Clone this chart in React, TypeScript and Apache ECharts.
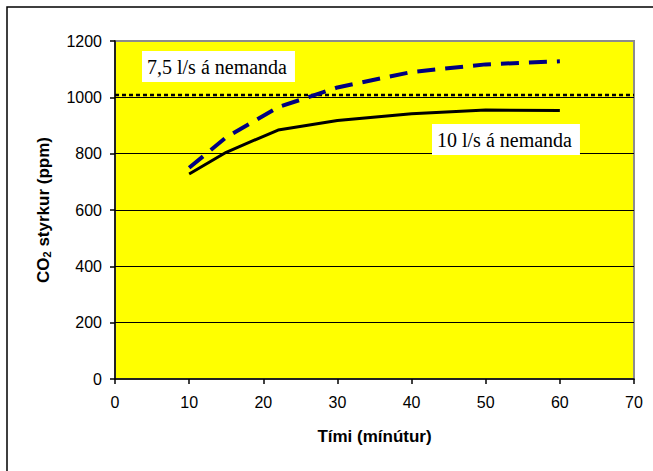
import React, { useEffect, useRef } from "react";
import * as echarts from "echarts";

const time10 = [10, 15, 22, 30, 40, 50, 60];
const co2At10 = [728, 805, 884, 918, 942, 955, 953];
const time75 = [10, 15, 22, 30, 40, 50, 60];
const co2At75 = [750, 858, 965, 1035, 1090, 1117, 1128];
const limitX = [0, 70];
const limitY = [1008, 1008];
const label75 = "7,5 l/s á nemanda";
const label10 = "10 l/s á nemanda";
const xTitle = "Tími (mínútur)";

export default function App() {
  const ref = useRef<HTMLDivElement>(null);
  useEffect(() => {
    document.body.style.margin = "0";
    const chart = echarts.init(ref.current!, undefined, { renderer: "svg" });
    const sans = "Liberation Sans, Arial, sans-serif";
    const serif = "Liberation Serif, Times New Roman, serif";
    chart.setOption({
      animation: false,
      backgroundColor: "#ffffff",
      grid: {
        left: 115,
        right: 19,
        top: 41,
        bottom: 92,
        show: true,
        backgroundColor: "#ffff00",
        borderColor: "#8c8c8c",
        borderWidth: 2,
      },
      xAxis: {
        type: "value",
        min: 0,
        max: 70,
        interval: 10,
        name: xTitle,
        nameLocation: "middle",
        nameGap: 49,
        nameTextStyle: { fontFamily: sans, fontSize: 17, fontWeight: "bold", color: "#000" },
        axisLine: { show: true, onZero: false, lineStyle: { color: "#000", width: 1.5 } },
        axisTick: { show: true, inside: false, length: 5, lineStyle: { color: "#000", width: 1.5 } },
        axisLabel: { fontFamily: sans, fontSize: 16, color: "#000", margin: 15, formatter: (v: number) => String(v) },
        splitLine: { show: false },
      },
      yAxis: {
        type: "value",
        min: 0,
        max: 1200,
        interval: 200,
        name: "{a|CO}{s|2}{a| styrkur (ppm)}",
        nameLocation: "middle",
        nameGap: 63,
        nameRotate: 90,
        nameTextStyle: {
          rich: {
            a: { fontFamily: sans, fontSize: 17, fontWeight: "bold", color: "#000" },
            s: { fontFamily: sans, fontSize: 11, fontWeight: "bold", color: "#000", verticalAlign: "bottom", padding: [7, 0, 0, 0] },
          },
        },
        axisLine: { show: true, lineStyle: { color: "#000", width: 1.5 } },
        axisTick: { show: true, inside: false, length: 5, lineStyle: { color: "#000", width: 1.5 } },
        axisLabel: { fontFamily: sans, fontSize: 16, color: "#000", margin: 13, formatter: (v: number) => String(v) },
        splitLine: {
          show: true,
          lineStyle: {
            color: ["rgba(0,0,0,0)", "#000", "#000", "#000", "#000", "#000", "#8c8c8c"],
            width: 1.2,
          },
        },
      },
      series: [
        {
          type: "line",
          name: label10,
          data: time10.map((t, i) => [t, co2At10[i]]),
          showSymbol: false,
          symbol: "none",
          lineStyle: { color: "#000", width: 3 },
          z: 3,
        },
        {
          type: "line",
          name: label75,
          data: time75.map((t, i) => [t, co2At75[i]]),
          showSymbol: false,
          symbol: "none",
          lineStyle: { color: "#000080", width: 4, type: [18, 10] },
          z: 4,
        },
        {
          type: "line",
          name: "limit",
          data: limitX.map((t, i) => [t, limitY[i]]),
          showSymbol: false,
          symbol: "none",
          lineStyle: { color: "#000", width: 2.5, type: [4, 3] },
          z: 2,
        },
      ],
      graphic: [
        {
          type: "rect",
          shape: { x: 7, y: 7, width: 700, height: 500 },
          style: { fill: "none", stroke: "#000", lineWidth: 1.5 },
          z: 100,
        },
        {
          type: "text",
          x: 142,
          y: 51,
          style: {
            text: label75,
            fontFamily: serif,
            fontSize: 20,
            fill: "#000",
            backgroundColor: "#fff",
            padding: [6, 8, 5, 5],
          },
          z: 50,
        },
        {
          type: "text",
          x: 432,
          y: 124,
          style: {
            text: label10,
            fontFamily: serif,
            fontSize: 20,
            fill: "#000",
            backgroundColor: "#fff",
            padding: [6, 8, 5, 5],
          },
          z: 50,
        },
      ],
    });
    return () => chart.dispose();
  }, []);
  return <div ref={ref} style={{ width: 653, height: 471 }} />;
}
